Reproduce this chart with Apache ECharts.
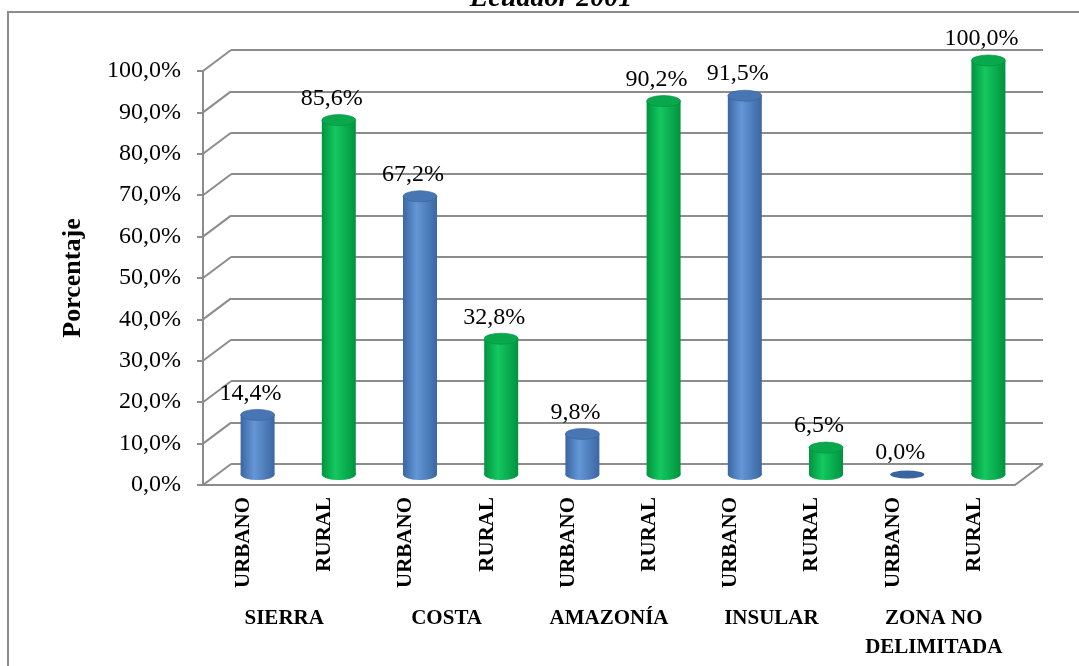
<!DOCTYPE html>
<html>
<head>
<meta charset="utf-8">
<script src="https://cdn.jsdelivr.net/npm/echarts@6/dist/echarts.min.js"></script>
<style>
  html, body { margin: 0; padding: 0; background: #fff; }
  #chart { width: 1079px; height: 666px; }
</style>
</head>
<body>
<div id="chart"></div>
<script>
// datos
const regions = ['SIERRA', 'COSTA', 'AMAZONÍA', 'INSULAR', 'ZONA NO\nDELIMITADA']
const areas = ['URBANO', 'RURAL']
const urbano = [14.4, 67.2, 9.8, 91.5, 0.0]
const rural = [85.6, 32.8, 90.2, 6.5, 100.0]
const yTicks = [0, 10, 20, 30, 40, 50, 60, 70, 80, 90, 100]

const categories = []
const values = []
regions.forEach((r, i) => {
  categories.push(areas[0], areas[1])
  values.push(urbano[i], rural[i])
})

const SERIF = '"Liberation Serif", "Times New Roman", serif'
const GRID_COLOR = '#8c8c8c'
const DX = 28, DY = -21

const fmt = v => v.toFixed(1).replace('.', ',') + '%'

const colors = {
  blue: { edge: '#3b67a3', mid: '#6496d6', top: '#4876b2', topStroke: '#3a64a0' },
  green: { edge: '#00933f', mid: '#14c860', top: '#0aa84c', topStroke: '#00923f' }
}

function ellipse (cx, cy, rx, ry, style) {
  return { type: 'circle', x: cx, y: cy, scaleY: ry / rx, shape: { cx: 0, cy: 0, r: rx }, style }
}

function renderCylinder (params, api) {
  const idx = api.value(0)
  const val = api.value(1)
  const top = api.coord([idx, val])
  const base = api.coord([idx, 0])
  const rx = 17, ry = 5.5
  const c = idx % 2 === 0 ? colors.blue : colors.green
  const grad = new echarts.graphic.LinearGradient(0, 0, 1, 0, [
    { offset: 0, color: c.edge },
    { offset: 0.4, color: c.mid },
    { offset: 1, color: c.edge }
  ])
  const children = []
  if (val > 0) {
    children.push({ type: 'rect', shape: { x: top[0] - rx, y: top[1], width: rx * 2, height: base[1] - top[1] }, style: { fill: grad } })
    children.push(ellipse(base[0], base[1], rx, ry, { fill: grad }))
    children.push(ellipse(top[0], top[1], rx, ry, { fill: c.top, stroke: c.topStroke, lineWidth: 1 }))
  } else {
    children.push(ellipse(top[0], top[1], rx, 4, { fill: c.topStroke }))
  }
  children.push({
    type: 'text',
    x: top[0] - 7,
    y: top[1] - ry - 4,
    style: { text: fmt(val), align: 'center', verticalAlign: 'bottom', font: '24px ' + SERIF, fill: '#000' }
  })
  return { type: 'group', children }
}

function renderDiagonal (params, api) {
  const y = api.coord([0, api.value(1)])[1]
  const x = api.value(0) === 0 ? params.coordSys.x : params.coordSys.x + params.coordSys.width
  return {
    type: 'line',
    shape: { x1: x, y1: y, x2: x + DX, y2: y + DY },
    style: { stroke: GRID_COLOR, lineWidth: 2 }
  }
}

const chart = echarts.init(document.getElementById('chart'))
chart.setOption({
  backgroundColor: '#fff',
  animation: false,
  graphic: [
    { type: 'rect', shape: { x: 8, y: 12, width: 1100, height: 700 }, style: { fill: 'none', stroke: GRID_COLOR, lineWidth: 2 }, z: 0 },
    { type: 'text', x: 551, y: -1, style: { text: 'Ecuador 2001', align: 'center', verticalAlign: 'middle', font: 'italic bold 28px ' + SERIF, fill: '#000' } }
  ],
  grid: [
    // pared del fondo
    { left: 231, right: 36, top: 50, bottom: 202, outerBoundsMode: 'none' },
    // plano frontal (ejes)
    { left: 203, right: 64, top: 71, bottom: 181, outerBoundsMode: 'none' },
    // barras (profundidad media)
    { left: 217, right: 50, top: 60.5, bottom: 191.5, outerBoundsMode: 'none' }
  ],
  xAxis: [
    { gridIndex: 0, type: 'category', data: categories, show: false },
    {
      gridIndex: 1,
      type: 'category',
      data: categories,
      axisLine: { show: true, lineStyle: { color: GRID_COLOR, width: 2 } },
      axisTick: { show: false },
      axisLabel: { rotate: 90, margin: 12, color: '#000', fontFamily: SERIF, fontWeight: 'bold', fontSize: 21, interval: 0 }
    },
    {
      gridIndex: 1,
      type: 'category',
      data: regions,
      position: 'bottom',
      offset: 111,
      axisLine: { show: false },
      axisTick: { show: false },
      axisLabel: { margin: 8, color: '#000', fontFamily: SERIF, fontWeight: 'bold', fontSize: 21, lineHeight: 29, interval: 0 }
    },
    { gridIndex: 2, type: 'category', data: categories, show: false }
  ],
  yAxis: [
    {
      gridIndex: 0, type: 'value', min: 0, max: 100, interval: 10,
      axisLine: { show: false }, axisTick: { show: false }, axisLabel: { show: false },
      splitLine: { show: true, lineStyle: { color: GRID_COLOR, width: 2 } }
    },
    {
      gridIndex: 1, type: 'value', min: 0, max: 100, interval: 10,
      axisLine: { show: true, lineStyle: { color: GRID_COLOR, width: 2 } },
      axisTick: { show: true, length: 6, lineStyle: { color: GRID_COLOR, width: 2 } },
      splitLine: { show: false },
      axisLabel: { margin: 22, color: '#000', fontFamily: SERIF, fontSize: 24, formatter: v => fmt(v) },
      name: 'Porcentaje',
      nameLocation: 'middle',
      nameGap: 117,
      nameTextStyle: { color: '#000', fontFamily: SERIF, fontWeight: 'bold', fontSize: 26 }
    },
    { gridIndex: 2, type: 'value', min: 0, max: 100, show: false }
  ],
  series: [
    {
      type: 'custom',
      xAxisIndex: 1,
      yAxisIndex: 1,
      renderItem: renderDiagonal,
      encode: { x: 0, y: 1 },
      data: yTicks.map(v => [0, v]).concat([[categories.length - 1, 0]]),
      silent: true,
      z: 1
    },
    {
      type: 'custom',
      xAxisIndex: 3,
      yAxisIndex: 2,
      renderItem: renderCylinder,
      encode: { x: 0, y: 1 },
      data: values.map((v, i) => [i, v]),
      z: 5
    }
  ]
})
</script>
</body>
</html>
